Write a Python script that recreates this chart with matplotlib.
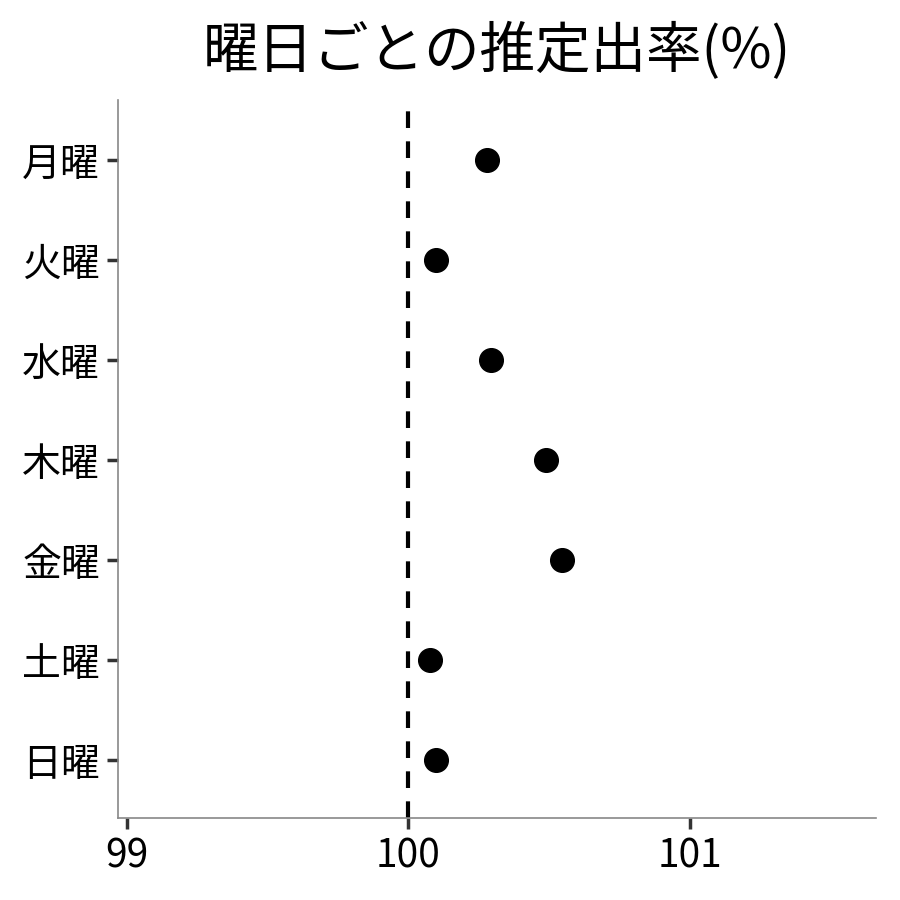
import matplotlib.pyplot as plt

plt.rcParams['font.family'] = ['Noto Sans CJK JP', 'DejaVu Sans']

days = ["月曜", "火曜", "水曜", "木曜", "金曜", "土曜", "日曜"]
rates = [100.28, 100.10, 100.295, 100.49, 100.545, 100.078, 100.10]
ref_value = 100
xticks = [99, 100, 101]

fig = plt.figure(figsize=(9, 9), dpi=100)
ax = fig.add_axes([0.1311, 0.0911, 0.8422, 0.7978])

ypos = list(range(len(days)))[::-1]
ax.scatter(rates, ypos, s=290, color="black", zorder=3)
ax.axvline(ref_value, color="black", linestyle=(0, (4, 3.2)), linewidth=3, zorder=2)

ax.set_yticks(ypos)
ax.set_yticklabels(days, fontsize=28)
ax.set_xticks(xticks)
ax.set_xticklabels([str(v) for v in xticks], fontsize=28)
ax.set_xlim(98.968, 101.662)
ax.set_ylim(-0.58, 6.6)

for side in ["top", "right"]:
    ax.spines[side].set_visible(False)
for side in ["left", "bottom"]:
    ax.spines[side].set_color("#888888")
    ax.spines[side].set_linewidth(1.2)
ax.tick_params(length=8, width=2.5, color="#333333", pad=5)

fig.suptitle("曜日ごとの推定出率(%)", fontsize=40, x=0.552, y=0.975)

fig.savefig("out.png", dpi=100)
